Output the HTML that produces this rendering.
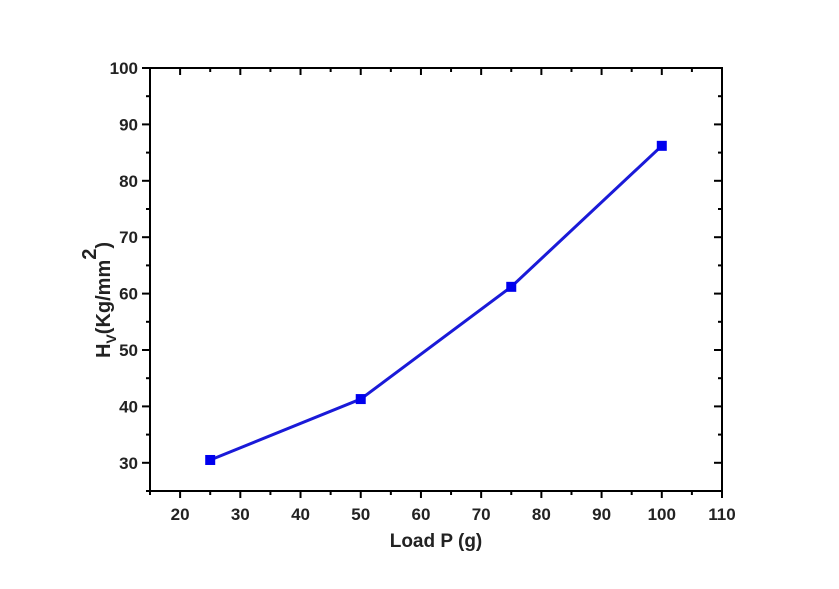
<!DOCTYPE html>
<html><head><meta charset="utf-8"><style>
body{margin:0;background:#fff;}
svg{display:block;font-family:"Liberation Sans",Arial,sans-serif;font-weight:bold;}
</style></head><body>
<svg id="chart" width="839" height="589" viewBox="0 0 839 589"></svg>
<script>
const loads=[25,50,75,100];
const hardness=[30.5,41.3,61.2,86.2];
const xTicks=[20,30,40,50,60,70,80,90,100,110];
const yTicks=[30,40,50,60,70,80,90,100];
const L=150,R=722,T=68,B=491;
const xMin=15,xMax=110,yMin=25,yMax=100;
const sx=v=>L+(v-xMin)/(xMax-xMin)*(R-L);
const sy=v=>B-(v-yMin)/(yMax-yMin)*(B-T);
const svg=document.getElementById('chart');
const NS='http://www.w3.org/2000/svg';
function mk(tag,attrs,parent){const e=document.createElementNS(NS,tag);for(const k in attrs)e.setAttribute(k,attrs[k]);(parent||svg).appendChild(e);return e;}
const frame=mk('rect',{x:L,y:T,width:R-L,height:B-T,fill:'none',stroke:'#000','stroke-width':2});


for(let v=xMin;v<=xMax;v+=5){
  const major=v%10===0;const x=sx(v);const len=major?7:4;
  const t1=mk('line',{x1:x,y1:B,x2:x,y2:B+len,stroke:'#000','stroke-width':2});
  
  
  const t2=mk('line',{x1:x,y1:T,x2:x,y2:T+len,stroke:'#000','stroke-width':2});
  
  
}
xTicks.forEach(v=>{
  const t=mk('text',{x:sx(v),y:B+29,'text-anchor':'middle','font-size':17,fill:'#222'});
  t.textContent=v;
  
  
});
for(let v=yMin;v<=yMax;v+=5){
  const major=v%10===0;const y=sy(v);const len=major?8:4;
  const t1=mk('line',{x1:L-len,y1:y,x2:L,y2:y,stroke:'#000','stroke-width':2});
  
  
  const t2=mk('line',{x1:R-len,y1:y,x2:R,y2:y,stroke:'#000','stroke-width':2});
  
  
}
yTicks.forEach(v=>{
  const t=mk('text',{x:L-12,y:sy(v)+6,'text-anchor':'end','font-size':17,fill:'#222'});
  t.textContent=v;
  
  
});
const pts=loads.map((l,i)=>sx(l)+','+sy(hardness[i])).join(' ');
const line=mk('polyline',{points:pts,fill:'none',stroke:'#1a1ad8','stroke-width':3});


loads.forEach((l,i)=>{
  const m=mk('rect',{x:sx(l)-5,y:sy(hardness[i])-5,width:10,height:10,fill:'#0000ee'});
  
  
});
const xt=mk('text',{x:436,y:547,'text-anchor':'middle','font-size':19,fill:'#222'});
xt.textContent='Load P (g)';


const yt=mk('text',{transform:'translate(110,300) rotate(-90)','text-anchor':'middle','font-size':20,fill:'#222'});
yt.innerHTML='H<tspan font-size="14" dy="6">V</tspan><tspan dy="-6">(Kg/mm</tspan><tspan dy="-14" font-size="20">2</tspan><tspan dy="14">)</tspan>';


</script>
</body></html>
